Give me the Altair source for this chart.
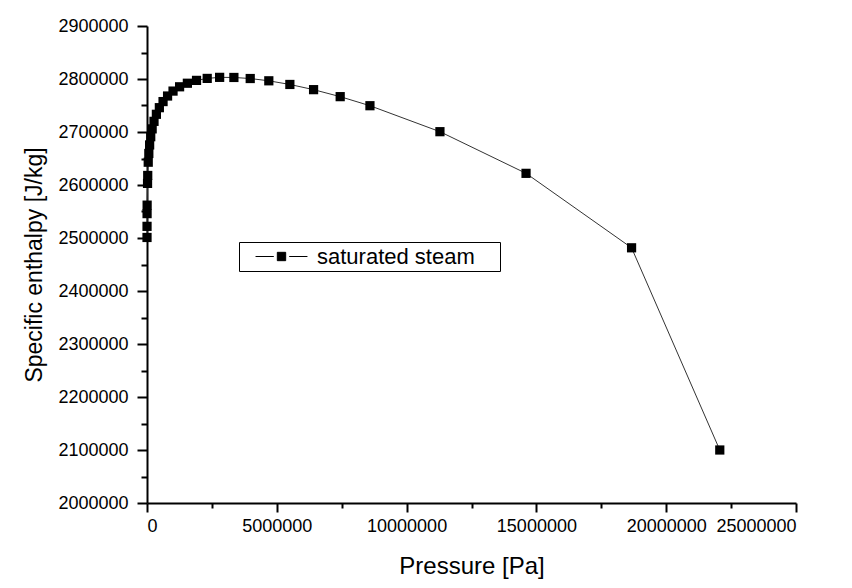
import altair as alt
import pandas as pd

# Saturated steam: pressure [Pa] and specific enthalpy [J/kg]
pressure_pa = [611.7, 1300, 3000, 5000, 21000, 28000,
               47414, 70182,
               101420, 143380, 198670, 270280, 361540, 476160, 618230, 792180,
               1002800, 1255200, 1554900, 1907700, 2319600, 2797900, 3347000,
               3976200, 4692300, 5503000, 6416600, 7441700, 8587900, 11284000,
               14601000, 18666000, 22064000]
enthalpy_jkg = [2501000, 2522000, 2546000, 2562000, 2603000, 2618000,
                2643000, 2659500, 2675600, 2691100, 2705900, 2720100,
                2733400, 2745900, 2757400, 2767900, 2777200, 2785300, 2792000,
                2797400, 2801100, 2803100, 2802900, 2800900, 2796600, 2789700,
                2779900, 2766700, 2749600, 2700600, 2622000, 2481500, 2100000]
series_name = "saturated steam"

x_ticks = [i * 2500000 for i in range(11)]
y_ticks = [2000000 + i * 50000 for i in range(19)]

df = pd.DataFrame({
    "p": pressure_pa,
    "h": enthalpy_jkg,
    "idx": list(range(len(pressure_pa))),
    "series": [series_name] * len(pressure_pa),
})

FONT = "Liberation Sans"

x_axis = alt.Axis(
    values=x_ticks,
    labelExpr="datum.value % 5000000 === 0 ? format(datum.value, 'd') : ''",
    tickSize={"condition": {"test": "datum.value % 5000000 === 0", "value": 9}, "value": 5},
    labelPadding=5,
    labelFontSize=18,
    titleFontSize=24,
    titlePadding=19,
    grid=False,
)
y_axis = alt.Axis(
    values=y_ticks,
    labelExpr="datum.value % 100000 === 0 ? format(datum.value, 'd') : ''",
    tickSize={"condition": {"test": "datum.value % 100000 === 0", "value": 10}, "value": 6},
    labelPadding=9,
    labelFontSize=18,
    titleFontSize=23,
    titlePadding=11,
    grid=False,
)

x_enc = alt.X("p:Q", title="Pressure [Pa]",
              scale=alt.Scale(domain=[0, 25000000], nice=False, zero=False), axis=x_axis)
y_enc = alt.Y("h:Q", title="Specific enthalpy [J/kg]",
              scale=alt.Scale(domain=[2000000, 2900000], nice=False, zero=False), axis=y_axis)

line = alt.Chart(df).mark_line(color="#333333", strokeWidth=1).encode(
    x=x_enc, y=y_enc, order="idx:Q"
)

# symbol drawn with r = 11 px: lines reach +-26 px, square +-4 px;
# the final bare move widens the legend frame to the right
legend_path = ("M-2.36,0L-0.7,0M0.7,0L2.36,0"
               "M-0.38,-0.38L0.38,-0.38L0.38,0.38L-0.38,0.38Z"
               "M19.4,0")

points = alt.Chart(df).mark_point(shape="square", filled=True, size=85, opacity=1).encode(
    x=x_enc, y=y_enc,
    color=alt.Color("series:N", scale=alt.Scale(range=["black"]),
                    legend=alt.Legend(
                        title=None,
                        orient="none",
                        legendX=92,
                        legendY=216,
                        symbolType=legend_path,
                        symbolSize=484,
                        symbolFillColor="black",
                        symbolStrokeColor="black",
                        symbolStrokeWidth=1,
                        symbolOffset=28,
                        labelOffset=24,
                        labelFontSize=22,
                        labelFont=FONT,
                        labelColor="black",
                        padding=3,
                        strokeColor="black",
                        fillColor="white",
                    )),
)

chart = alt.layer(line, points).properties(
    width=649,
    height=477,
    autosize=alt.AutoSizeParams(type="none"),
    padding={"left": 139, "top": 18, "right": 40, "bottom": 82},
    background="white",
).configure_view(
    strokeWidth=0
).configure_axis(
    labelFont=FONT,
    titleFont=FONT,
    labelColor="black",
    titleColor="black",
    titleFontWeight="normal",
    domainColor="black",
    tickColor="black",
    domainWidth=2,
    tickWidth=2,
)

chart.save("out.html", embed_options={"renderer": "svg", "actions": False})
